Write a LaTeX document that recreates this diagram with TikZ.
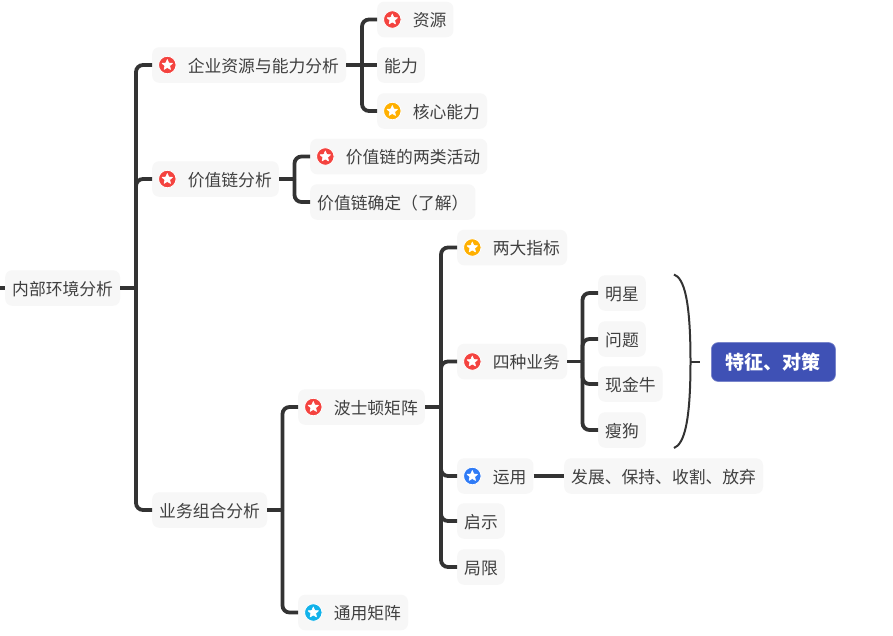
\documentclass[tikz,border=0pt]{standalone}
\usepackage{fontspec}
\setmainfont{Noto Sans CJK SC}
\usetikzlibrary{shapes.geometric}
\definecolor{linec}{HTML}{333333}
\definecolor{boxc}{HTML}{F7F7F7}
\definecolor{textc}{HTML}{404040}
\definecolor{redc}{HTML}{F4433F}
\definecolor{orangec}{HTML}{FFB000}
\definecolor{bluec}{HTML}{2F7BF6}
\definecolor{cyanc}{HTML}{12B2EA}
\definecolor{tagc}{HTML}{3F51B5}
\tikzset{
  topic/.style={anchor=west,fill=boxc,rounded corners=7,minimum height=35.5,inner xsep=7,inner ysep=0,
    text=textc,font=\fontsize{16.8}{18}\selectfont,text height=15.4,text depth=1},
  tag/.style={anchor=west,fill=tagc,draw=tagc!70!white,line width=.6,rounded corners=7,minimum height=39,inner xsep=14.6,inner ysep=0,
    text=white,font=\fontsize{19}{21}\selectfont\bfseries,text height=17.4,text depth=1.6},
  conn/.style={draw=linec,line width=3.8,line cap=butt},
  branch/.style={conn,rounded corners=7},
  thin/.style={draw=linec,line width=2},
  badge/.style={circle,fill=#1,draw=white,line width=.8,minimum size=17.5,inner sep=0},
  starmark/.style={star,star points=5,star point ratio=2.2,fill=white,draw=white,line width=.6,line join=round,minimum size=11,inner sep=0}
}
\newcommand{\icontopic}[5]{% name, x, y, colour, text
  \node[topic] (#1) at (#2,#3) {\hspace{28.6pt}#5};
  \node[badge=#4] (#1b) at ([xshift=15.3pt]#1.west) {};
  \node[starmark] (#1s) at (#1b) {};
}
\newcommand{\plaintopic}[4]{\node[topic] (#1) at (#2,#3) {#4};}
\newcommand{\arm}[3]{% junction, parent, child
  \draw[branch] (#1) -- (#1 |- #3.west) -- (#3.west);
}
\begin{document}
\begin{tikzpicture}[x=1pt,y=-1pt]
\useasboundingbox (0,0) rectangle (893,635);
\fill[white] (0,0) rectangle (893,635);
% topics
\plaintopic{root}{5}{288}{内部环境分析}
\icontopic{qiye}{152}{65}{redc}{企业资源与能力分析}
\icontopic{ziyuan}{377}{19.5}{redc}{资源}
\plaintopic{nengli}{377}{65}{能力}
\icontopic{hexin}{377}{111}{orangec}{核心能力}
\icontopic{jiazhi}{152}{179}{redc}{价值链分析}
\icontopic{liangl}{310}{156.5}{redc}{价值链的两类活动}
\plaintopic{queding}{310}{202}{价值链确定（了解）}
\plaintopic{yewu}{152}{510}{业务组合分析}
\icontopic{boshi}{298}{407}{redc}{波士顿矩阵}
\icontopic{tongyong}{298}{612.5}{cyanc}{通用矩阵}
\icontopic{liangda}{457}{247.5}{orangec}{两大指标}
\icontopic{sizhong}{457}{361.5}{redc}{四种业务}
\icontopic{yunyong}{457}{476}{bluec}{运用}
\plaintopic{qishi}{457}{521}{启示}
\plaintopic{juxian}{457}{567}{局限}
\plaintopic{mingxing}{598}{293}{明星}
\plaintopic{wenti}{598}{339}{问题}
\plaintopic{xianjin}{598}{384}{现金牛}
\plaintopic{shougou}{598}{430}{瘦狗}
\plaintopic{fazhan}{564}{476}{发展、保持、收割、放弃}
\node[tag] (tezheng) at (711,362) {特征、对策};
% junctions
\coordinate (rootin) at (0,288);
\coordinate (j0) at (136,288);
\coordinate (j1) at (362,65);
\coordinate (j2) at (294.5,179);
\coordinate (j3) at (282.5,510);
\coordinate (j4) at (441,407);
\coordinate (j5) at (582.5,361.5);
% connectors
\draw[conn] (rootin) -- (root.west);
\draw[conn] (root.east) -- (j0);
\arm{j0}{root}{qiye}\arm{j0}{root}{jiazhi}\arm{j0}{root}{yewu}
\draw[conn] (qiye.east) -- (nengli.west);
\arm{j1}{qiye}{ziyuan}\arm{j1}{qiye}{hexin}
\draw[conn] (jiazhi.east) -- (j2);
\arm{j2}{jiazhi}{liangl}\arm{j2}{jiazhi}{queding}
\draw[conn] (yewu.east) -- (j3);
\arm{j3}{yewu}{boshi}\arm{j3}{yewu}{tongyong}
\draw[conn] (boshi.east) -- (j4);
\arm{j4}{boshi}{liangda}\arm{j4}{boshi}{sizhong}\arm{j4}{boshi}{yunyong}\arm{j4}{boshi}{qishi}\arm{j4}{boshi}{juxian}
\draw[conn] (sizhong.east) -- (j5);
\arm{j5}{sizhong}{mingxing}\arm{j5}{sizhong}{wenti}\arm{j5}{sizhong}{xianjin}\arm{j5}{sizhong}{shougou}
\draw[conn] (yunyong.east) -- (fazhan.west);
% summary bracket
\coordinate (brtop) at (674,274.5);
\coordinate (brmid) at (690.5,361.5);
\coordinate (brbot) at (674,448);
\coordinate (brtip) at (700,361.5);
\draw[thin] (brtop) .. controls (684,278) and (690.5,300) .. (brmid) .. controls (690.5,423) and (684,444) .. (brbot);
\draw[thin] (brmid) -- (brtip);
\end{tikzpicture}
\end{document}
